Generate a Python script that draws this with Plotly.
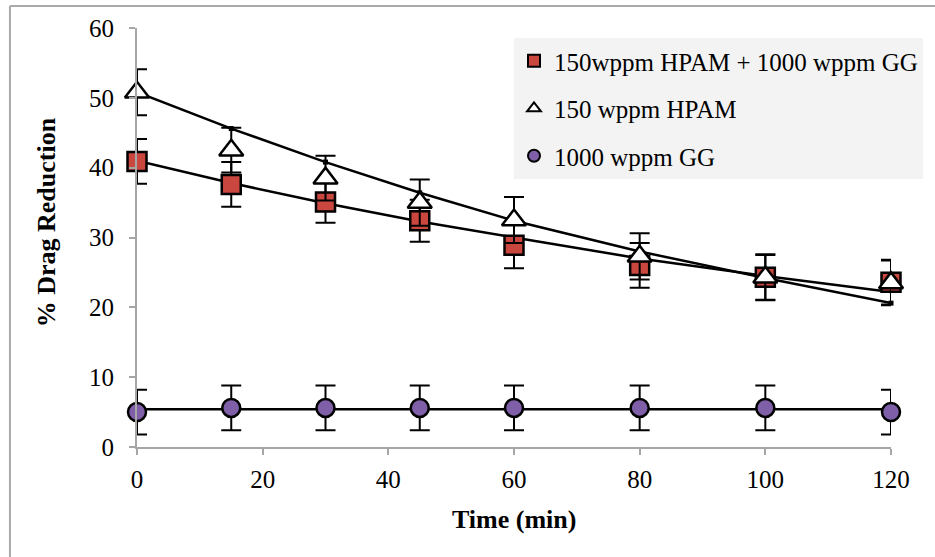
import plotly.graph_objects as go

time_min = [0, 15, 30, 45, 60, 80, 100, 120]

mix_dr = [40.9, 37.6, 35.1, 32.4, 28.9, 26.0, 24.3, 23.6]
mix_err = [3.2, 3.2, 3.0, 3.0, 3.3, 3.2, 3.2, 3.2]
mix_fit = [41.0, 37.8, 34.9, 32.3, 30.0, 27.0, 24.5, 22.2]

hpam_dr = [50.8, 42.5, 38.5, 35.0, 32.5, 27.3, 24.3, 23.5]
hpam_err = [3.3, 3.2, 3.2, 3.3, 3.3, 3.3, 3.3, 3.2]
hpam_fit = [50.8, 45.6, 40.8, 36.4, 32.4, 28.0, 24.2, 20.6]

gg_dr = [5.0, 5.6, 5.6, 5.6, 5.6, 5.6, 5.6, 5.0]
gg_err = [3.2, 3.2, 3.2, 3.2, 3.2, 3.2, 3.2, 3.2]
gg_fit = [5.4, 5.4, 5.4, 5.4, 5.4, 5.4, 5.4, 5.4]

x_ticks = [0, 20, 40, 60, 80, 100, 120]
y_ticks = [0, 10, 20, 30, 40, 50, 60]

SERIF = "Liberation Serif, Times New Roman, serif"

fig = go.Figure()

# fitted trend lines
for fit, mk in [(mix_fit, 0), (hpam_fit, 5), (gg_fit, 0)]:
    fig.add_trace(go.Scatter(
        x=time_min, y=fit, mode="lines+markers" if mk else "lines",
        line=dict(color="black", width=2.5),
        marker=dict(symbol="square", size=mk, color="black"),
        showlegend=False, hoverinfo="skip", cliponaxis=False,
    ))

def err(vals):
    return dict(type="data", array=vals, visible=True, color="black",
                thickness=2, width=10)

fig.add_trace(go.Scatter(
    x=time_min, y=mix_dr, mode="markers", name="150wppm HPAM + 1000 wppm GG",
    legendgroup="a",
    error_y=err(mix_err),
    marker=dict(symbol="square", size=19, color="#c9473f",
                line=dict(color="black", width=2.5)),
    cliponaxis=False,
))
fig.add_trace(go.Scatter(
    x=time_min, y=hpam_dr, mode="markers", name="150 wppm HPAM",
    legendgroup="b",
    error_y=err(hpam_err),
    marker=dict(symbol="triangle-up", size=21, color="white",
                line=dict(color="black", width=2.5)),
    cliponaxis=False,
))
fig.add_trace(go.Scatter(
    x=time_min, y=gg_dr, mode="markers", name="1000 wppm GG",
    legendgroup="c",
    error_y=err(gg_err),
    marker=dict(symbol="circle", size=18, color="#7f5fa8",
                line=dict(color="black", width=2.5)),
    cliponaxis=False,
))

fig.update_layout(
    width=935, height=557,
    margin=dict(l=137, r=44, t=28, b=110),
    paper_bgcolor="white", plot_bgcolor="white",
    font=dict(family=SERIF, size=25, color="black"),
    showlegend=True,
    legend=dict(
        x=0.5, y=0.976, xanchor="left", yanchor="top",
        bgcolor="#f3f3f3", borderwidth=0,
        font=dict(family=SERIF, size=25, color="black"),
        traceorder="grouped", tracegroupgap=12,
        itemsizing="constant", entrywidth=375,
    ),
    xaxis=dict(
        range=[0, 120], tickvals=x_ticks, ticktext=[str(v) for v in x_ticks],
        showgrid=False, zeroline=False, showline=True,
        linecolor="#a6a6a6", linewidth=2,
        ticks="outside", ticklen=6, tickwidth=2, tickcolor="#a6a6a6",
        tickfont=dict(family=SERIF, size=25), ticklabelstandoff=3,
    ),
    yaxis=dict(
        range=[0, 60], tickvals=y_ticks, ticktext=[str(v) for v in y_ticks],
        showgrid=False, zeroline=False, showline=True,
        linecolor="#a6a6a6", linewidth=2,
        ticks="outside", ticklen=6, tickwidth=2, tickcolor="#a6a6a6",
        tickfont=dict(family=SERIF, size=25), ticklabelstandoff=10,
    ),
    annotations=[
        dict(text="<b>Time (min)</b>", xref="paper", yref="paper", x=0.5, y=-0.172,
             xanchor="center", yanchor="middle", showarrow=False,
             font=dict(family=SERIF, size=26, color="black")),
        dict(text="<b>% Drag Reduction</b>", xref="paper", yref="paper", x=-0.119, y=0.537,
             xanchor="center", yanchor="middle", showarrow=False, textangle=-90,
             font=dict(family=SERIF, size=26, color="black")),
    ],
    shapes=[
        dict(type="line", xref="paper", yref="paper", x0=-0.1685, x1=1.06, y0=1.0525, y1=1.0525,
             line=dict(color="#aaaaaa", width=2)),
        dict(type="line", xref="paper", yref="paper", x0=-0.1685, x1=-0.1685, y0=1.0525, y1=-0.27,
             line=dict(color="#aaaaaa", width=2)),
    ],
)

fig.write_html("out.html")
